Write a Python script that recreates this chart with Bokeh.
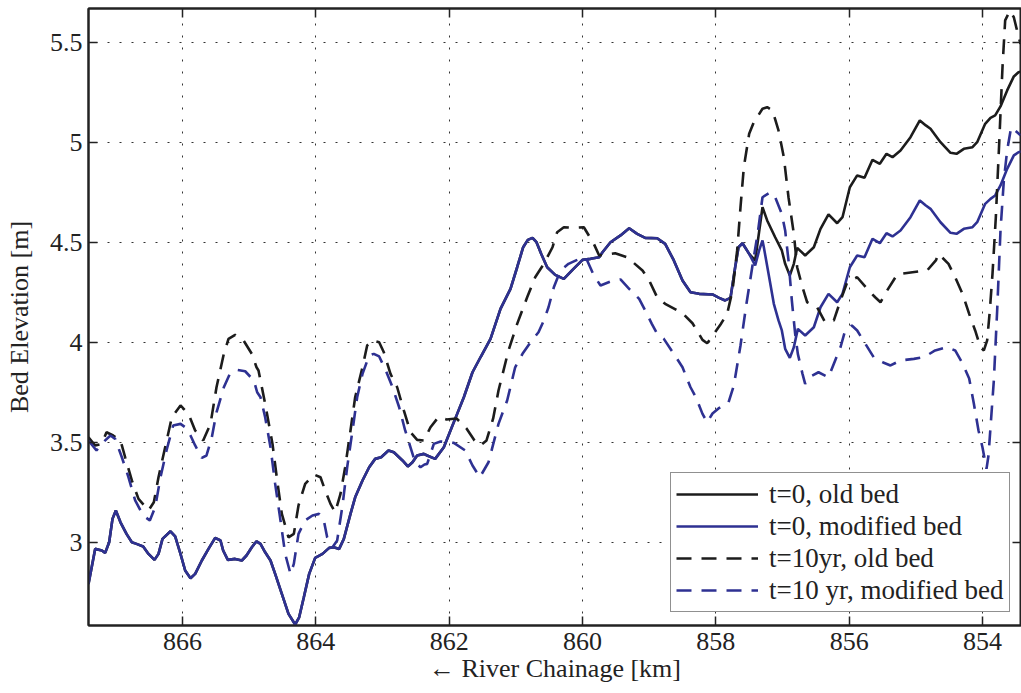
from bokeh.plotting import figure
from bokeh.models import Range1d, FixedTicker, LinearAxis, Legend, LegendItem
from bokeh.embed import file_html
from bokeh.resources import INLINE

# ---------------------------------------------------------------- data
# chainage in km (decreasing downstream), bed elevation in m

# t = 0, modified bed
t0_mod_km = [867.41, 867.31, 867.21, 867.16, 867.10, 867.05, 867.00, 866.93, 866.84, 866.76,
             866.69, 866.59, 866.51, 866.42, 866.36, 866.30, 866.18, 866.11, 866.03, 865.96,
             865.88, 865.81, 865.71, 865.61, 865.51, 865.43, 865.39, 865.32, 865.21, 865.11,
             865.04, 864.96, 864.89, 864.83, 864.76, 864.68, 864.61, 864.51, 864.41, 864.31,
             864.25, 864.18, 864.10, 864.01, 863.90, 863.80, 863.73, 863.65, 863.58, 863.48,
             863.41, 863.30, 863.20, 863.11, 863.02, 862.91, 862.83, 862.70, 862.62, 862.55,
             862.48, 862.38, 862.33, 862.21, 862.08, 861.98, 861.88, 861.78, 861.65, 861.53,
             861.38, 861.23, 861.08, 860.98, 860.89, 860.82, 860.75, 860.69, 860.62, 860.53,
             860.41, 860.28, 860.15, 860.00, 859.88, 859.75, 859.70, 859.58, 859.43, 859.30,
             859.18, 859.06, 858.88, 858.76, 858.63, 858.50, 858.38, 858.25, 858.05, 857.95,
             857.86, 857.78, 857.71, 857.66, 857.60, 857.50, 857.41, 857.35, 857.30, 857.28,
             857.20, 857.13, 857.06, 857.01, 856.96, 856.89, 856.83, 856.77, 856.66, 856.53,
             856.43, 856.31, 856.18, 856.10, 855.99, 855.88, 855.77, 855.65, 855.54, 855.44,
             855.35, 855.23, 855.08, 854.94, 854.85, 854.78, 854.63, 854.48, 854.39, 854.28,
             854.15, 854.08, 853.96, 853.88, 853.81, 853.73, 853.63, 853.53, 853.46, 853.42]
t0_mod_m = [2.795, 2.970, 2.962, 2.950, 3.003, 3.120, 3.162, 3.103, 3.045, 3.003,
            2.995, 2.982, 2.945, 2.915, 2.945, 3.020, 3.058, 3.032, 2.945, 2.862,
            2.823, 2.845, 2.912, 2.970, 3.025, 3.012, 2.962, 2.915, 2.920, 2.912,
            2.937, 2.978, 3.008, 2.995, 2.953, 2.912, 2.845, 2.745, 2.645, 2.592,
            2.628, 2.728, 2.845, 2.925, 2.945, 2.975, 2.978, 2.970, 3.020, 3.145,
            3.228, 3.312, 3.378, 3.420, 3.428, 3.462, 3.453, 3.412, 3.382, 3.403,
            3.437, 3.445, 3.437, 3.420, 3.478, 3.562, 3.645, 3.728, 3.853, 3.928,
            4.020, 4.170, 4.270, 4.378, 4.478, 4.515, 4.525, 4.503, 4.445, 4.378,
            4.340, 4.320, 4.365, 4.415, 4.420, 4.428, 4.453, 4.503, 4.537, 4.573,
            4.545, 4.525, 4.523, 4.495, 4.412, 4.312, 4.253, 4.245, 4.242, 4.225,
            4.212, 4.225, 4.378, 4.478, 4.498, 4.445, 4.387, 4.462, 4.512, 4.478,
            4.328, 4.195, 4.112, 4.062, 3.970, 3.925, 3.978, 4.070, 4.037, 4.078,
            4.178, 4.245, 4.203, 4.245, 4.378, 4.437, 4.428, 4.520, 4.498, 4.548,
            4.532, 4.562, 4.628, 4.712, 4.687, 4.670, 4.603, 4.550, 4.545, 4.570,
            4.578, 4.603, 4.695, 4.720, 4.737, 4.787, 4.870, 4.937, 4.953, 4.957]

# t = 0, old bed: identical to the modified bed upstream of km 857.5
t0_old_tail_km = [857.41, 857.30, 857.23, 857.11, 857.01, 856.96, 856.89, 856.83, 856.78, 856.66,
                  856.53, 856.43, 856.31, 856.18, 856.10, 855.99, 855.88, 855.77, 855.65, 855.54,
                  855.44, 855.35, 855.23, 855.08, 854.94, 854.85, 854.78, 854.63, 854.48, 854.39,
                  854.28, 854.15, 854.08, 853.96, 853.88, 853.81, 853.73, 853.63, 853.53, 853.46,
                  853.42]
t0_old_tail_m = [4.412, 4.678, 4.612, 4.528, 4.462, 4.395, 4.337, 4.395, 4.475, 4.437,
                 4.478, 4.570, 4.642, 4.598, 4.628, 4.778, 4.837, 4.825, 4.915, 4.895,
                 4.945, 4.928, 4.962, 5.028, 5.112, 5.087, 5.070, 5.003, 4.950, 4.945,
                 4.970, 4.978, 5.003, 5.095, 5.125, 5.137, 5.182, 5.262, 5.332, 5.353,
                 5.357]

# t = 10 yr, old bed
t10_old_km = [867.41, 867.31, 867.21, 867.14, 867.04, 866.93, 866.86, 866.76, 866.66, 866.51,
              866.43, 866.36, 866.26, 866.16, 866.03, 865.91, 865.81, 865.69, 865.58, 865.49,
              865.38, 865.31, 865.21, 865.09, 864.96, 864.89, 864.86, 864.76, 864.65, 864.58,
              864.51, 864.41, 864.33, 864.26, 864.16, 864.03, 863.93, 863.86, 863.78, 863.71,
              863.63, 863.56, 863.48, 863.41, 863.30, 863.23, 863.15, 863.05, 862.98, 862.88,
              862.78, 862.68, 862.58, 862.48, 862.38, 862.28, 862.16, 862.04, 861.89, 861.74,
              861.62, 861.53, 861.44, 861.34, 861.26, 861.11, 860.98, 860.83, 860.71, 860.58,
              860.45, 860.38, 860.28, 860.13, 859.98, 859.83, 859.75, 859.51, 859.33, 859.10,
              859.00, 858.88, 858.76, 858.50, 858.35, 858.20, 858.13, 858.08, 857.93, 857.83,
              857.75, 857.68, 857.63, 857.58, 857.50, 857.43, 857.30, 857.23, 857.15, 857.06,
              856.98, 856.91, 856.83, 856.78, 856.70, 856.63, 856.48, 856.36, 856.23, 856.13,
              856.03, 855.88, 855.73, 855.61, 855.53, 855.43, 855.28, 855.05, 854.83, 854.70,
              854.66, 854.51, 854.41, 854.30, 854.20, 854.11, 854.03, 853.98, 853.93, 853.89,
              853.85, 853.80, 853.75, 853.70, 853.66, 853.59, 853.53, 853.47, 853.43]
t10_old_m = [3.528, 3.487, 3.495, 3.553, 3.537, 3.512, 3.428, 3.312, 3.220, 3.162,
             3.203, 3.328, 3.478, 3.628, 3.687, 3.645, 3.562, 3.512, 3.595, 3.778,
             3.945, 4.020, 4.040, 4.015, 3.945, 3.878, 3.862, 3.695, 3.495, 3.312,
             3.145, 3.028, 3.045, 3.187, 3.295, 3.342, 3.328, 3.262, 3.195, 3.153,
             3.245, 3.378, 3.562, 3.728, 3.878, 3.987, 4.012, 4.003, 3.953, 3.845,
             3.778, 3.662, 3.553, 3.515, 3.512, 3.578, 3.629, 3.617, 3.622, 3.572,
             3.512, 3.487, 3.512, 3.622, 3.762, 3.962, 4.095, 4.228, 4.328, 4.395,
             4.478, 4.553, 4.578, 4.575, 4.578, 4.495, 4.437, 4.448, 4.428, 4.362,
             4.312, 4.228, 4.195, 4.148, 4.098, 4.015, 3.998, 4.020, 4.092, 4.145,
             4.262, 4.462, 4.678, 4.878, 5.045, 5.103, 5.170, 5.178, 5.162, 5.062,
             4.928, 4.728, 4.545, 4.378, 4.278, 4.203, 4.178, 4.103, 4.112, 4.212,
             4.303, 4.328, 4.270, 4.228, 4.203, 4.262, 4.342, 4.353, 4.362, 4.412,
             4.445, 4.395, 4.328, 4.245, 4.145, 4.062, 3.978, 3.962, 4.012, 4.162,
             4.345, 4.628, 4.995, 5.378, 5.612, 5.660, 5.628, 5.545, 5.495]

# t = 10 yr, modified bed
t10_mod_km = [867.41, 867.29, 867.19, 867.08, 867.01, 866.91, 866.81, 866.71, 866.59, 866.49,
              866.41, 866.33, 866.24, 866.14, 866.03, 865.96, 865.88, 865.81, 865.71, 865.64,
              865.56, 865.49, 865.38, 865.29, 865.19, 865.06, 864.93, 864.88, 864.83, 864.76,
              864.68, 864.61, 864.53, 864.46, 864.38, 864.33, 864.26, 864.16, 864.05, 863.95,
              863.88, 863.83, 863.75, 863.68, 863.60, 863.53, 863.45, 863.38, 863.30, 863.20,
              863.13, 863.05, 862.95, 862.85, 862.75, 862.66, 862.58, 862.51, 862.43, 862.37,
              862.33, 862.23, 862.13, 861.93, 861.76, 861.65, 861.54, 861.41, 861.26, 861.13,
              861.01, 860.90, 860.78, 860.66, 860.58, 860.51, 860.43, 860.33, 860.21, 860.08,
              860.00, 859.93, 859.83, 859.73, 859.58, 859.43, 859.30, 859.15, 859.06, 858.96,
              858.88, 858.78, 858.63, 858.50, 858.38, 858.30, 858.20, 858.13, 858.05, 857.96,
              857.81, 857.73, 857.63, 857.54, 857.45, 857.37, 857.30, 857.18, 857.11, 857.01,
              856.96, 856.91, 856.86, 856.81, 856.77, 856.70, 856.66, 856.58, 856.46, 856.31,
              856.21, 856.13, 856.06, 855.96, 855.88, 855.76, 855.63, 855.49, 855.38, 855.23,
              855.03, 854.88, 854.71, 854.53, 854.41, 854.30, 854.20, 854.13, 854.06, 854.00,
              853.94, 853.91, 853.88, 853.83, 853.78, 853.73, 853.68, 853.63, 853.57, 853.51,
              853.43]
t10_mod_m = [3.512, 3.462, 3.503, 3.537, 3.520, 3.428, 3.328, 3.212, 3.137, 3.112,
             3.178, 3.328, 3.462, 3.587, 3.595, 3.578, 3.537, 3.487, 3.425, 3.437,
             3.528, 3.653, 3.778, 3.845, 3.865, 3.858, 3.812, 3.753, 3.728, 3.628,
             3.478, 3.295, 3.112, 2.945, 2.845, 2.895, 3.045, 3.112, 3.137, 3.145,
             3.112, 3.028, 2.978, 3.012, 3.187, 3.378, 3.562, 3.728, 3.845, 3.937,
             3.945, 3.932, 3.862, 3.778, 3.678, 3.562, 3.478, 3.403, 3.378, 3.392,
             3.395, 3.495, 3.507, 3.500, 3.462, 3.387, 3.328, 3.403, 3.595, 3.712,
             3.878, 3.945, 4.003, 4.053, 4.112, 4.178, 4.278, 4.362, 4.395, 4.415,
             4.428, 4.412, 4.337, 4.287, 4.307, 4.317, 4.270, 4.220, 4.162, 4.095,
             4.045, 4.020, 3.945, 3.878, 3.778, 3.728, 3.645, 3.603, 3.647, 3.672,
             3.702, 3.787, 3.987, 4.197, 4.387, 4.552, 4.728, 4.753, 4.728, 4.645,
             4.562, 4.412, 4.212, 4.045, 3.945, 3.845, 3.795, 3.832, 3.853, 3.828,
             3.912, 3.978, 4.062, 4.087, 4.062, 3.997, 3.927, 3.902, 3.887, 3.912,
             3.920, 3.928, 3.962, 3.978, 3.962, 3.897, 3.822, 3.697, 3.562, 3.477,
             3.370, 3.437, 3.577, 3.812, 4.162, 4.562, 4.812, 4.962, 5.078, 5.062,
             5.037]

x_ticks = [854, 856, 858, 860, 862, 864, 866]
y_ticks = [3.0, 3.5, 4.0, 4.5, 5.0, 5.5]
y_tick_labels = ["3", "3.5", "4", "4.5", "5", "5.5"]

series_labels = ["t=0, old bed", "t=0, modified bed",
                 "t=10yr, old bed", "t=10 yr, modified bed"]

# full old bed at t = 0: shared upstream reach + its own downstream reach
t0_old_km = [k for k in t0_mod_km if k >= 857.5] + t0_old_tail_km
t0_old_m = [m for k, m in zip(t0_mod_km, t0_mod_m) if k >= 857.5] + t0_old_tail_m

# ---------------------------------------------------------------- styling
FONT = "Liberation Serif"
FS = "26px"
BLACK = "#1c1c1c"
BLUE = "#2e3192"
DASH = "15 10"
LW = 2.6

p = figure(width=1021, height=693,
           x_range=Range1d(867.41, 853.415), y_range=Range1d(2.587, 5.6715),
           output_backend="svg", toolbar_location=None,
           min_border_left=88, min_border_right=0,
           min_border_top=8, min_border_bottom=68)
p.background_fill_color = "white"
p.border_fill_color = "white"
p.outline_line_color = "#222222"
p.outline_line_width = 2

r_old0 = p.line(t0_old_km, t0_old_m, line_color=BLACK, line_width=LW)
r_mod0 = p.line(t0_mod_km, t0_mod_m, line_color=BLUE, line_width=LW)
r_old10 = p.line(t10_old_km, t10_old_m, line_color=BLACK, line_width=LW, line_dash=DASH)
r_mod10 = p.line(t10_mod_km, t10_mod_m, line_color=BLUE, line_width=LW, line_dash=DASH)


def style_axis(ax, labels=True):
    ax.axis_line_color = "#222222"
    ax.axis_line_width = 2
    ax.major_tick_line_color = "#222222"
    ax.major_tick_line_width = 1.5
    ax.major_tick_in = 9
    ax.major_tick_out = 0
    ax.minor_tick_line_color = None
    ax.major_label_text_font = FONT
    ax.major_label_text_color = "#222222"
    if labels:
        ax.major_label_text_font_size = FS
    else:
        # tick marks only on the top and right edges of the box
        ax.major_label_text_font_size = "1px"
        ax.major_label_text_color = None
        ax.major_label_standoff = 0


xa = p.xaxis[0]
ya = p.yaxis[0]
xa.ticker = FixedTicker(ticks=x_ticks)
ya.ticker = FixedTicker(ticks=y_ticks)
ya.major_label_overrides = {t: s for t, s in zip(y_ticks, y_tick_labels)}
style_axis(xa)
style_axis(ya)
xa.major_label_standoff = 7
ya.major_label_standoff = 6

xa.axis_label = "\u2190 River Chainage [km]"
ya.axis_label = "Bed Elevation [m]"
for ax in (xa, ya):
    ax.axis_label_text_font = FONT
    ax.axis_label_text_font_size = FS
    ax.axis_label_text_font_style = "normal"
    ax.axis_label_text_color = "#222222"
xa.axis_label_standoff = 1
ya.axis_label_standoff = 13

top_ax = LinearAxis(ticker=FixedTicker(ticks=x_ticks))
right_ax = LinearAxis(ticker=FixedTicker(ticks=y_ticks))
style_axis(top_ax, labels=False)
style_axis(right_ax, labels=False)
p.add_layout(top_ax, "above")
p.add_layout(right_ax, "right")

p.xgrid.ticker = FixedTicker(ticks=x_ticks)
p.ygrid.ticker = FixedTicker(ticks=y_ticks)
p.grid.grid_line_color = "#333333"
p.grid.grid_line_dash = "2 10"
p.grid.grid_line_width = 1

legend = Legend(items=[LegendItem(label=lab, renderers=[r])
                       for lab, r in zip(series_labels, [r_old0, r_mod0, r_old10, r_mod10])],
                location=(582, 13))
legend.label_text_font = FONT
legend.label_text_font_size = "27px"
legend.label_text_color = "#222222"
legend.glyph_width = 82
legend.glyph_height = 30
legend.label_height = 32
legend.label_standoff = 11
legend.spacing = 0
legend.padding = 5
legend.margin = 0
legend.border_line_color = "#222222"
legend.border_line_width = 1.5
legend.background_fill_color = "white"
legend.background_fill_alpha = 1
p.add_layout(legend, "center")

open("out.html", "w").write(file_html(p, INLINE))
